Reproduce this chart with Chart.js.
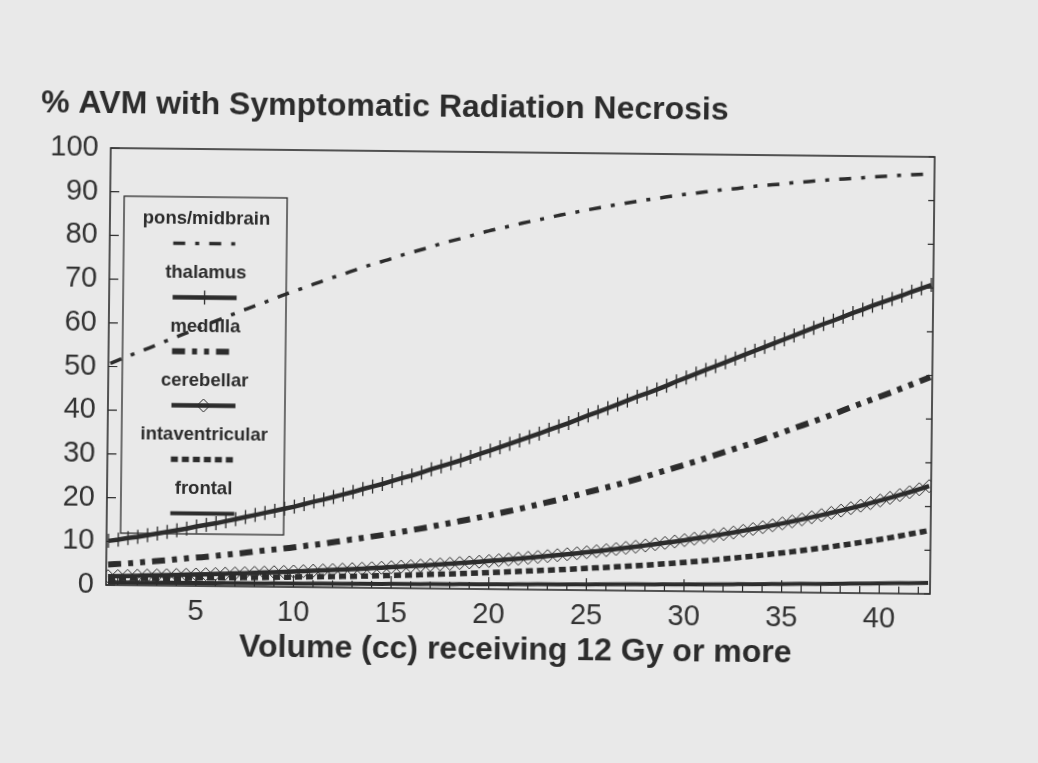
<!DOCTYPE html>
<html>
<head>
<meta charset="utf-8">
<script src="https://cdn.jsdelivr.net/npm/chart.js@4.4.1/dist/chart.umd.min.js"></script>
<style>
  html, body { margin: 0; padding: 0; background: #e9e9e9; overflow: hidden; }
  /* the scanned page sits slightly tilted, right side lower */
  #wrap { width: 1038px; height: 763px; transform: rotate(0.62deg); transform-origin: 106px 586px; }
</style>
</head>
<body>
<div id="wrap"><canvas id="avm" width="1038" height="763"></canvas></div>
<script>
const chartTitle = "% AVM with Symptomatic Radiation Necrosis";
const xAxisTitle = "Volume (cc) receiving 12 Gy or more";

const xTickValues = [1, 2, 3, 4, 5, 6, 7, 8, 9, 10, 11, 12, 13, 14, 15, 16, 17, 18, 19, 20, 21,
  22, 23, 24, 25, 26, 27, 28, 29, 30, 31, 32, 33, 34, 35, 36, 37, 38, 39, 40, 41, 42];
const yTickValues = [0, 5, 10, 15, 20, 25, 30, 35, 40, 45, 50, 55, 60, 65, 70, 75, 80, 85, 90, 95, 100];

// volume (cc), every 0.5 cc for the marked curves, every 1 cc for the dashed ones
const xFine = [0.5, 1, 1.5, 2, 2.5, 3, 3.5, 4, 4.5, 5, 5.5, 6, 6.5, 7, 7.5, 8, 8.5, 9, 9.5, 10,
  10.5, 11, 11.5, 12, 12.5, 13, 13.5, 14, 14.5, 15, 15.5, 16, 16.5, 17, 17.5, 18, 18.5, 19, 19.5, 20,
  20.5, 21, 21.5, 22, 22.5, 23, 23.5, 24, 24.5, 25, 25.5, 26, 26.5, 27, 27.5, 28, 28.5, 29, 29.5, 30,
  30.5, 31, 31.5, 32, 32.5, 33, 33.5, 34, 34.5, 35, 35.5, 36, 36.5, 37, 37.5, 38, 38.5, 39, 39.5, 40,
  40.5, 41, 41.5, 42, 42.5];
const xCoarse = [0.5, 1.5, 2.5, 3.5, 4.5, 5.5, 6.5, 7.5, 8.5, 9.5, 10.5, 11.5, 12.5, 13.5, 14.5,
  15.5, 16.5, 17.5, 18.5, 19.5, 20.5, 21.5, 22.5, 23.5, 24.5, 25.5, 26.5, 27.5, 28.5, 29.5, 30.5,
  31.5, 32.5, 33.5, 34.5, 35.5, 36.5, 37.5, 38.5, 39.5, 40.5, 41.5, 42.5];

const ponsMidbrain = [50.7, 52.6, 54.4, 56.3, 58.1, 60.0, 61.8, 63.6, 65.3, 67.1,
  68.7, 70.4, 71.9, 73.5, 74.9, 76.4, 77.7, 79.1, 80.3, 81.6,
  82.7, 83.8, 84.8, 85.8, 86.7, 87.6, 88.4, 89.2, 89.9, 90.6,
  91.2, 91.8, 92.3, 92.9, 93.3, 93.8, 94.2, 94.6, 94.9, 95.3,
  95.6, 95.9, 96.1];
const thalamus = [10.1, 10.4, 10.8, 11.1, 11.5, 11.9, 12.3, 12.7, 13.1, 13.6,
  14.0, 14.4, 14.9, 15.4, 15.9, 16.4, 16.9, 17.4, 17.9, 18.4,
  19.0, 19.6, 20.1, 20.7, 21.3, 21.9, 22.6, 23.2, 23.8, 24.5,
  25.2, 25.8, 26.5, 27.3, 28.0, 28.7, 29.4, 30.2, 31.0, 31.7,
  32.5, 33.3, 34.1, 34.9, 35.7, 36.6, 37.4, 38.2, 39.1, 40.0,
  40.8, 41.7, 42.6, 43.5, 44.4, 45.2, 46.1, 47.0, 48.0, 48.9,
  49.8, 50.7, 51.6, 52.5, 53.4, 54.3, 55.2, 56.1, 57.0, 57.9,
  58.8, 59.7, 60.6, 61.5, 62.3, 63.2, 64.1, 64.9, 65.8, 66.6,
  67.4, 68.2, 69.1, 69.9, 70.7];
const medulla = [4.7, 5.0, 5.4, 5.8, 6.3, 6.7, 7.2, 7.7, 8.3, 8.8,
  9.4, 10.0, 10.7, 11.4, 12.1, 12.9, 13.7, 14.6, 15.5, 16.4,
  17.4, 18.4, 19.5, 20.6, 21.8, 23.0, 24.2, 25.5, 26.9, 28.3,
  29.7, 31.2, 32.7, 34.2, 35.8, 37.5, 39.1, 40.8, 42.6, 44.3,
  46.0, 47.8, 49.6];
const cerebellar = [2.01, 2.07, 2.13, 2.20, 2.27, 2.33, 2.40, 2.48, 2.55, 2.63,
  2.71, 2.79, 2.88, 2.96, 3.05, 3.15, 3.24, 3.34, 3.44, 3.55,
  3.65, 3.77, 3.88, 4.00, 4.12, 4.24, 4.37, 4.50, 4.64, 4.78,
  4.93, 5.07, 5.23, 5.39, 5.55, 5.72, 5.89, 6.07, 6.25, 6.44,
  6.64, 6.84, 7.04, 7.26, 7.48, 7.70, 7.94, 8.18, 8.42, 8.68,
  8.94, 9.21, 9.49, 9.78, 10.07, 10.38, 10.69, 11.02, 11.35, 11.69,
  12.05, 12.41, 12.79, 13.18, 13.57, 13.99, 14.41, 14.85, 15.30, 15.76,
  16.24, 16.73, 17.24, 17.76, 18.30, 18.85, 19.42, 20.01, 20.62, 21.24,
  21.88, 22.55, 23.23, 23.93, 24.66];
const intraventricular = [1.51, 1.58, 1.65, 1.72, 1.80, 1.88, 1.96, 2.05, 2.14, 2.24,
  2.34, 2.44, 2.55, 2.67, 2.81, 2.96, 3.13, 3.30, 3.49, 3.69,
  3.90, 4.12, 4.36, 4.60, 4.86, 5.13, 5.42, 5.73, 6.05, 6.40,
  6.80, 7.24, 7.71, 8.21, 8.74, 9.30, 9.90, 10.55, 11.23, 11.96,
  12.73, 13.60, 14.50];
const frontal = [0.60, 0.62, 0.64, 0.66, 0.68, 0.70, 0.72, 0.74, 0.76, 0.79,
  0.82, 0.85, 0.88, 0.91, 0.94, 0.97, 1.00, 1.03, 1.07, 1.11,
  1.15, 1.19, 1.23, 1.27, 1.31, 1.36, 1.41, 1.46, 1.51, 1.56,
  1.62, 1.68, 1.74, 1.80, 1.87, 1.94, 2.01, 2.08, 2.16, 2.24,
  2.32, 2.41, 2.50];

const ink = "#2c2c2c";
const fontFamily = '"Liberation Sans", Arial, sans-serif';

function toPoints(xs, ys) {
    return xs.map((x, i) => ({ x: x, y: ys[i] }));
}

// box, inward tick marks
const frameTicks = {
    id: "frameTicks",
    beforeDatasetsDraw(chart) {
        const ctx = chart.ctx;
        const a = chart.chartArea;
        const xs = chart.scales.x;
        const ys = chart.scales.y;
        ctx.save();
        ctx.strokeStyle = ink;
        ctx.setLineDash([]);
        ctx.lineWidth = 1.6;
        ctx.strokeRect(a.left, a.top, a.right - a.left, a.bottom - a.top);
        ctx.lineWidth = 1.2;
        ys.ticks.forEach((t) => {
            const y = ys.getPixelForValue(t.value);
            const major = t.value % 10 === 0;
            ctx.beginPath();
            ctx.moveTo(a.left, y);
            ctx.lineTo(a.left + (major ? 9 : 5), y);
            ctx.moveTo(a.right, y);
            ctx.lineTo(a.right - (major ? 6 : 4), y);
            ctx.stroke();
        });
        xs.ticks.forEach((t) => {
            const x = xs.getPixelForValue(t.value);
            const major = t.value % 5 === 0;
            ctx.beginPath();
            ctx.moveTo(x, a.bottom);
            ctx.lineTo(x, a.bottom - (major ? 12 : 7));
            ctx.stroke();
        });
        ctx.restore();
    }
};

// titles and the boxed legend (label above its line sample)
const paperText = {
    id: "paperText",
    afterDraw(chart) {
        const ctx = chart.ctx;
        const a = chart.chartArea;
        ctx.save();
        ctx.fillStyle = ink;
        ctx.textBaseline = "middle";
        ctx.font = "bold 32px " + fontFamily;
        ctx.textAlign = "left";
        ctx.fillText(chartTitle, 36, a.top - 44);
        ctx.textAlign = "center";
        ctx.fillText(xAxisTitle, (a.left + a.right) / 2 - 2, a.bottom + 61);

        const bx = a.left + 14;
        const by = a.top + 48;
        const bw = 163;
        const bh = 337;
        ctx.strokeStyle = ink;
        ctx.lineWidth = 1.3;
        ctx.setLineDash([]);
        ctx.strokeRect(bx, by, bw, bh);

        const cx = bx + bw / 2;
        ctx.font = "bold 18.5px " + fontFamily;
        chart.data.datasets.forEach((ds, i) => {
            const ty = by + 22 + i * 54;
            const sy = ty + 24.5;
            ctx.fillStyle = ink;
            ctx.fillText(ds.label, cx + 1, ty);

            ctx.lineWidth = ds.borderWidth;
            ctx.setLineDash(ds.borderDash || []);
            ctx.beginPath();
            ctx.moveTo(cx - 32, sy);
            ctx.lineTo(cx + 32, sy);
            ctx.stroke();
            ctx.setLineDash([]);

            if (ds.pointStyle === "line") {
                ctx.lineWidth = ds.pointBorderWidth;
                ctx.beginPath();
                ctx.moveTo(cx, sy - ds.pointRadius);
                ctx.lineTo(cx, sy + ds.pointRadius);
                ctx.stroke();
            }
            if (ds.pointStyle === "rectRot") {
                const r = ds.pointRadius;
                ctx.lineWidth = ds.pointBorderWidth;
                ctx.beginPath();
                ctx.moveTo(cx, sy - r);
                ctx.lineTo(cx + r, sy);
                ctx.lineTo(cx, sy + r);
                ctx.lineTo(cx - r, sy);
                ctx.closePath();
                ctx.stroke();
            }
        });
        ctx.restore();
    }
};

const datasets = [
    {
        label: "pons/midbrain",
        data: toPoints(xCoarse, ponsMidbrain),
        borderColor: ink,
        borderWidth: 3.5,
        borderDash: [12, 10, 4, 10],
        pointRadius: 0,
        cubicInterpolationMode: "monotone"
    },
    {
        label: "thalamus",
        data: toPoints(xFine, thalamus),
        borderColor: ink,
        borderWidth: 4.5,
        pointStyle: "line",
        rotation: 90,
        pointRadius: 7,
        pointBorderWidth: 1.3,
        pointBorderColor: ink,
        pointBackgroundColor: ink
    },
    {
        label: "medulla",
        data: toPoints(xCoarse, medulla),
        borderColor: ink,
        borderWidth: 6,
        borderDash: [13, 7, 5, 7, 5, 7],
        pointRadius: 0,
        cubicInterpolationMode: "monotone"
    },
    {
        label: "cerebellar",
        data: toPoints(xFine, cerebellar),
        borderColor: ink,
        borderWidth: 4.5,
        pointStyle: "rectRot",
        pointRadius: 6.5,
        pointBorderWidth: 1,
        pointBorderColor: ink,
        pointBackgroundColor: "rgba(0,0,0,0)"
    },
    {
        label: "intaventricular",
        data: toPoints(xCoarse, intraventricular),
        borderColor: ink,
        borderWidth: 5.5,
        borderDash: [7, 4],
        pointRadius: 0,
        cubicInterpolationMode: "monotone"
    },
    {
        label: "frontal",
        data: toPoints(xCoarse, frontal),
        borderColor: ink,
        borderWidth: 4,
        pointRadius: 0,
        cubicInterpolationMode: "monotone"
    }
];

const config = {
    type: "line",
    data: { datasets: datasets },
    options: {
        responsive: false,
        animation: false,
        events: [],
        layout: { padding: { top: 148, right: 108, left: 0, bottom: 0 } },
        plugins: {
            legend: { display: false },
            tooltip: { enabled: false }
        },
        scales: {
            x: {
                type: "linear",
                min: 0.4,
                max: 42.6,
                grid: { display: false, drawTicks: false },
                border: { display: false },
                afterBuildTicks: (axis) => {
                    axis.ticks = xTickValues.map((v) => ({ value: v }));
                },
                afterFit: (axis) => {
                    axis.height = 178;
                },
                ticks: {
                    autoSkip: false,
                    maxRotation: 0,
                    padding: 9,
                    color: "#333333",
                    font: { family: fontFamily, size: 29 },
                    callback: (value) => (value % 5 === 0 ? String(value) : "")
                }
            },
            y: {
                type: "linear",
                min: 0,
                max: 100,
                grid: { display: false, drawTicks: false },
                border: { display: false },
                afterBuildTicks: (axis) => {
                    axis.ticks = yTickValues.map((v) => ({ value: v }));
                },
                afterFit: (axis) => {
                    axis.width = 106;
                },
                ticks: {
                    padding: 12,
                    color: "#333333",
                    font: { family: fontFamily, size: 29 },
                    callback: (value) => (value % 10 === 0 ? String(value) : "")
                }
            }
        }
    },
    plugins: [frameTicks, paperText]
};

new Chart(document.getElementById("avm"), config);
</script>
</body>
</html>
